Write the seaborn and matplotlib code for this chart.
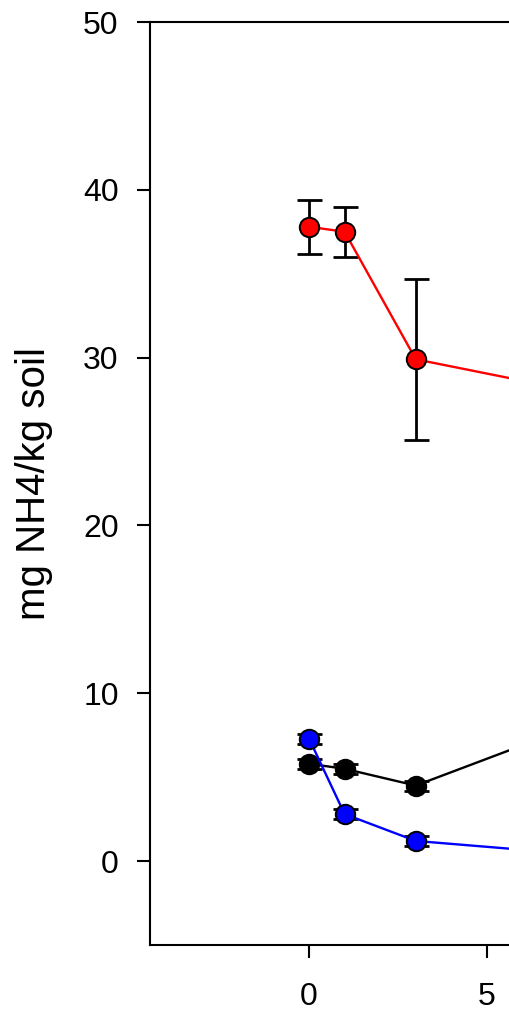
import numpy as np
import pandas as pd
import matplotlib
matplotlib.use("Agg")
import matplotlib.pyplot as plt
import seaborn as sns

# ------------------------------------------------------------------
# Data (days, mg NH4/kg soil, SD)
# ------------------------------------------------------------------
days = [0, 1, 3, 7]
red_mean = [37.8, 37.5, 29.9, 28.2]
red_sd = [1.6, 1.5, 4.8, 1.0]
black_mean = [5.8, 5.5, 4.5, 7.7]
black_sd = [0.3, 0.3, 0.3, 0.3]
blue_mean = [7.3, 2.8, 1.2, 0.5]
blue_sd = [0.3, 0.3, 0.3, 0.2]

series = ["red", "black", "blue"]
colors = {"red": "#ff0000", "black": "#000000", "blue": "#0000ff"}

df = pd.concat([
    pd.DataFrame({"day": days, "nh4": red_mean, "sd": red_sd, "series": "red"}),
    pd.DataFrame({"day": days, "nh4": black_mean, "sd": black_sd, "series": "black"}),
    pd.DataFrame({"day": days, "nh4": blue_mean, "sd": blue_sd, "series": "blue"}),
], ignore_index=True)

sns.set_style("ticks")
plt.rcParams["font.family"] = ["Liberation Sans", "DejaVu Sans"]

fig = plt.figure(figsize=(5.09, 10.13), dpi=100)
ax = fig.add_axes([150 / 509, 68 / 1013, 1 - 150 / 509, (945 - 22) / 1013])

# error bars underneath the markers
for s in series:
    sub = df[df["series"] == s]
    ax.errorbar(sub["day"], sub["nh4"], yerr=sub["sd"], fmt="none",
                ecolor="black", elinewidth=2, capsize=9, capthick=2, zorder=2)

sns.lineplot(data=df, x="day", y="nh4", hue="series", hue_order=series,
             palette=colors, marker="o", markersize=14, markeredgecolor="black",
             markeredgewidth=1.4, linewidth=1.7, legend=False, ax=ax, zorder=3)

ax.set_xlim(-4.47, 5.62)
ax.set_ylim(-5, 50)
ax.set_xticks([0, 5])
ax.set_yticks([0, 10, 20, 30, 40, 50])
ax.set_xlabel("")
ax.set_ylabel("mg NH4/kg soil", fontsize=29, labelpad=22, color="black")

for sp in ["left", "bottom", "top"]:
    ax.spines[sp].set_linewidth(1.5)
    ax.spines[sp].set_color("black")
ax.spines["right"].set_visible(False)

ax.tick_params(axis="both", direction="out", length=9.5, width=1.5,
               labelsize=23, colors="black", top=False, right=False)
ax.tick_params(axis="y", pad=13)
ax.tick_params(axis="x", pad=17)

plt.savefig("out.png", dpi=100)
